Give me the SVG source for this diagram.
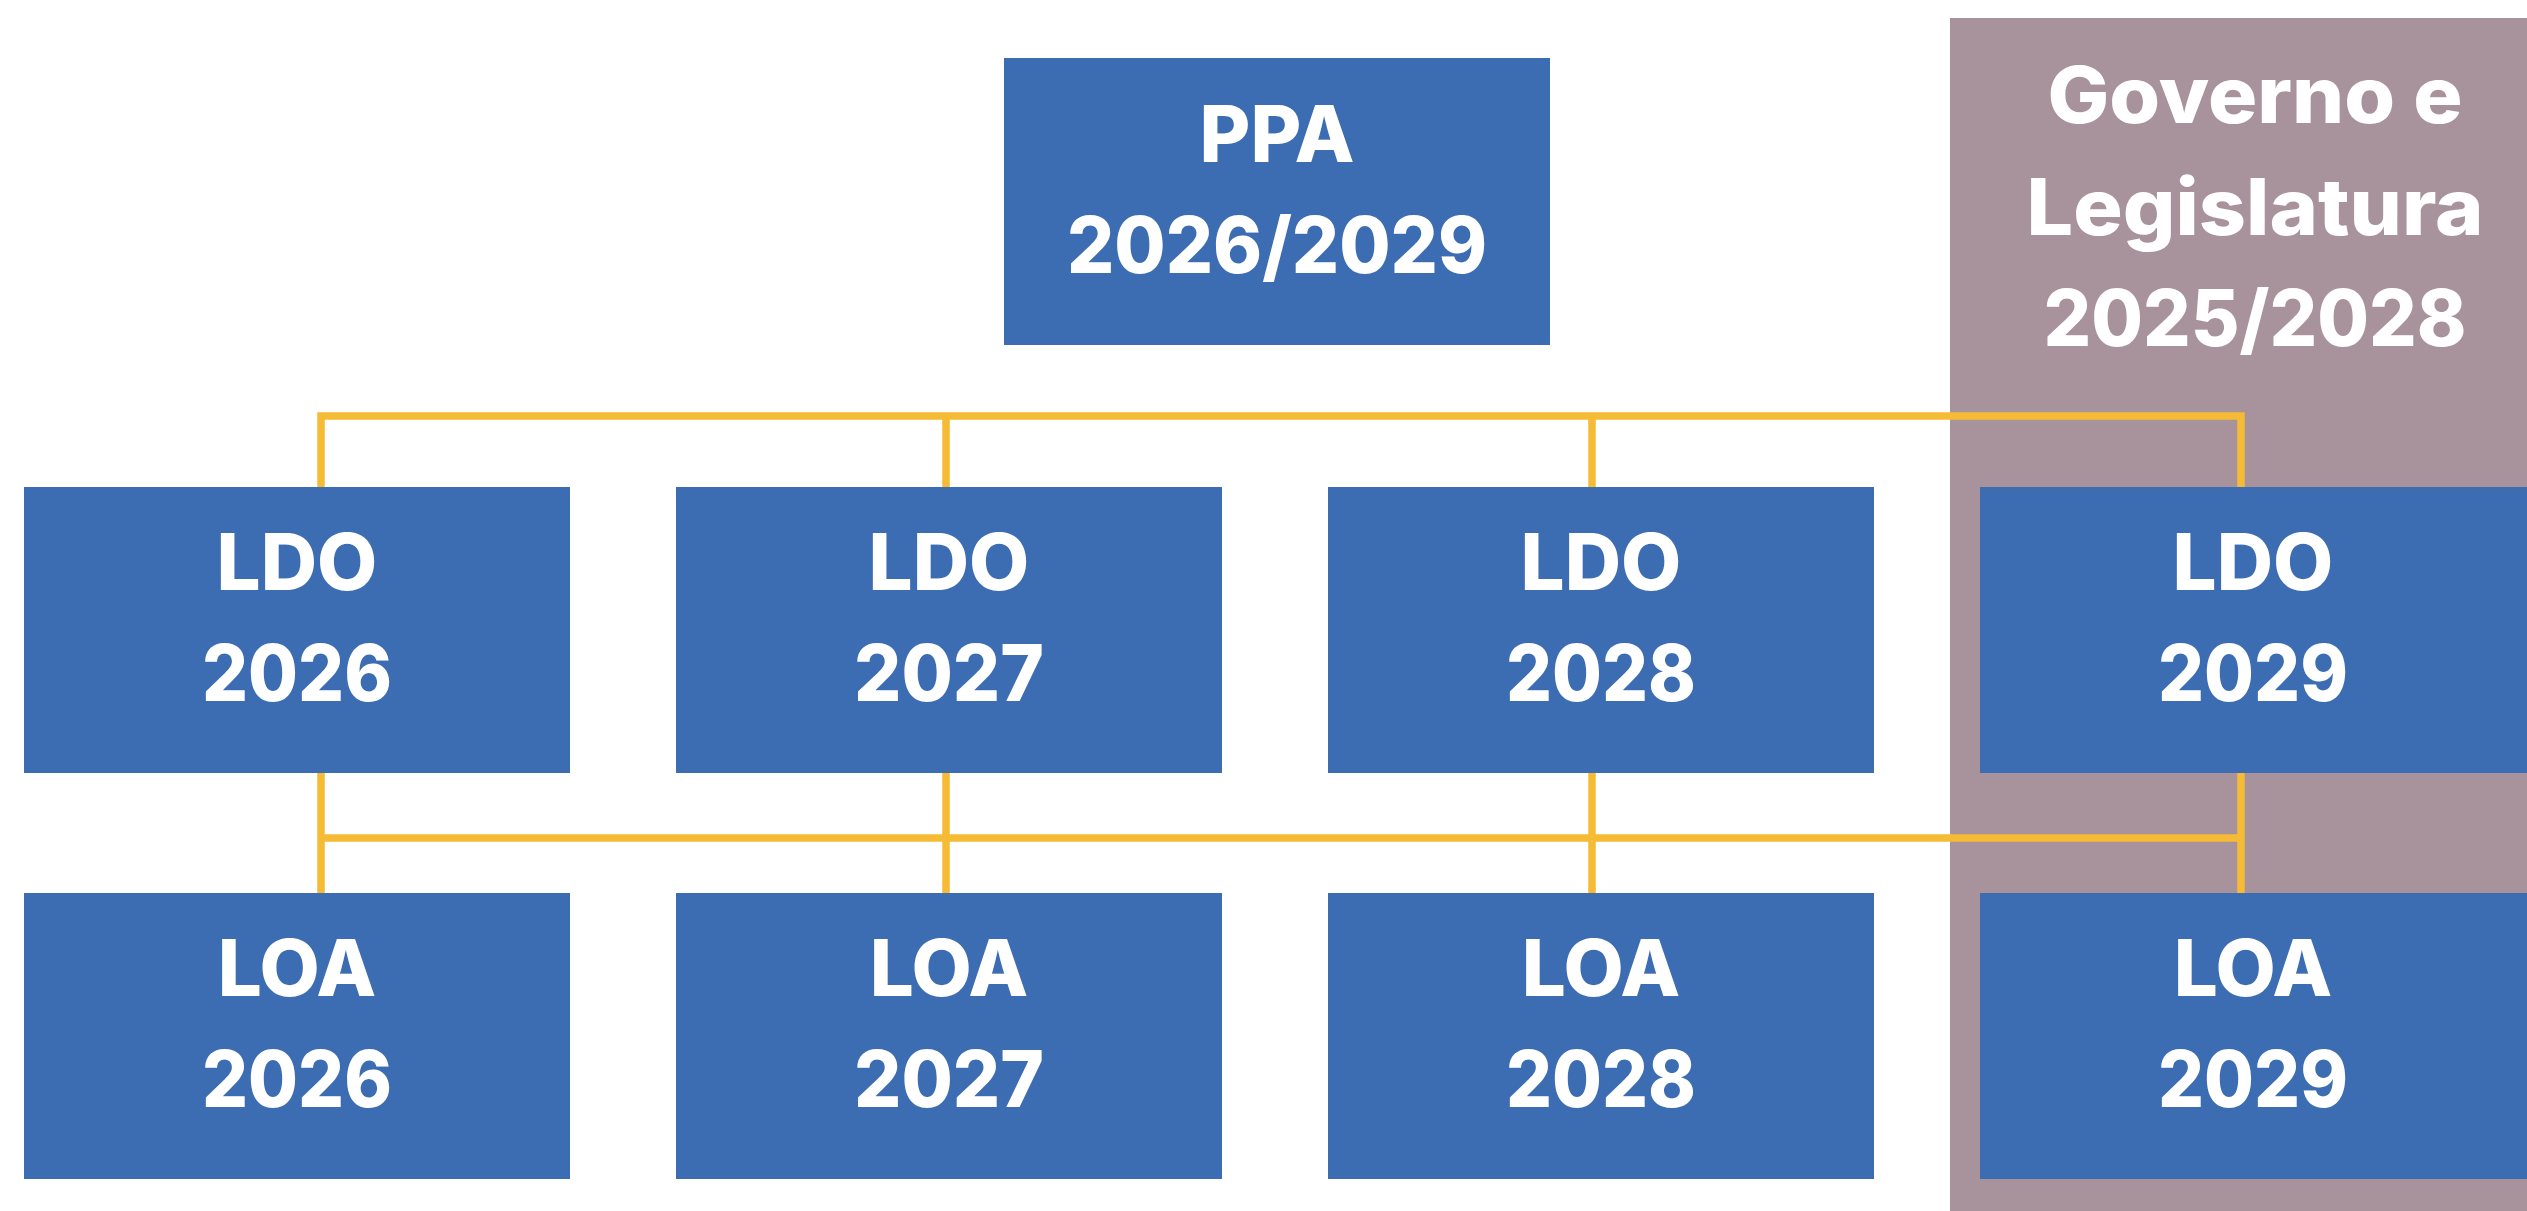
<svg xmlns="http://www.w3.org/2000/svg" width="2527" height="1211" viewBox="0 0 2527 1211">
<style>
.box{fill:#3C6DB3}
.t{font-family:Inter,"Noto Sans","Liberation Sans",sans-serif;font-weight:800;font-size:78px;fill:#FFFFFF;text-anchor:middle}
.c{fill:none;stroke:#F6BB35;stroke-width:7.5}
</style>
<rect width="2527" height="1211" fill="#FFFFFF"/>
<g id="governo">
<rect x="1950" y="18" width="577" height="1193" fill="#A8929B"/>
<text class="t" x="2255" y="123" textLength="415" lengthAdjust="spacingAndGlyphs">Governo e</text>
<text class="t" x="2255" y="235" textLength="457" lengthAdjust="spacingAndGlyphs">Legislatura</text>
<text class="t" x="2255" y="346" textLength="423" lengthAdjust="spacingAndGlyphs">2025/2028</text>
</g>
<g id="connectors">
<path class="c" d="M321,487 V416 H2241 V487 M946,416 V487 M1592,416 V487"/>
<path class="c" d="M321,772 V893 M946,772 V893 M1592,772 V893 M2241,772 V893 M321,838 H2241"/>
</g>
<g id="ppa">
<rect class="box" x="1004" y="58" width="546" height="287"/>
<text class="t" x="1277" y="162">PPA</text>
<text class="t" x="1277" y="273" textLength="420" lengthAdjust="spacingAndGlyphs">2026/2029</text>
</g>
<g id="ldo2026">
<rect class="box" x="24" y="487" width="546" height="286"/>
<text class="t" x="297" y="590">LDO</text>
<text class="t" x="297" y="701" textLength="190" lengthAdjust="spacingAndGlyphs">2026</text>
</g>
<g id="ldo2027">
<rect class="box" x="676" y="487" width="546" height="286"/>
<text class="t" x="949" y="590">LDO</text>
<text class="t" x="949" y="701" textLength="190" lengthAdjust="spacingAndGlyphs">2027</text>
</g>
<g id="ldo2028">
<rect class="box" x="1328" y="487" width="546" height="286"/>
<text class="t" x="1601" y="590">LDO</text>
<text class="t" x="1601" y="701" textLength="190" lengthAdjust="spacingAndGlyphs">2028</text>
</g>
<g id="ldo2029">
<rect class="box" x="1980" y="487" width="547" height="286"/>
<text class="t" x="2253" y="590">LDO</text>
<text class="t" x="2253" y="701" textLength="190" lengthAdjust="spacingAndGlyphs">2029</text>
</g>
<g id="loa2026">
<rect class="box" x="24" y="893" width="546" height="286"/>
<text class="t" x="297" y="996">LOA</text>
<text class="t" x="297" y="1107" textLength="190" lengthAdjust="spacingAndGlyphs">2026</text>
</g>
<g id="loa2027">
<rect class="box" x="676" y="893" width="546" height="286"/>
<text class="t" x="949" y="996">LOA</text>
<text class="t" x="949" y="1107" textLength="190" lengthAdjust="spacingAndGlyphs">2027</text>
</g>
<g id="loa2028">
<rect class="box" x="1328" y="893" width="546" height="286"/>
<text class="t" x="1601" y="996">LOA</text>
<text class="t" x="1601" y="1107" textLength="190" lengthAdjust="spacingAndGlyphs">2028</text>
</g>
<g id="loa2029">
<rect class="box" x="1980" y="893" width="547" height="286"/>
<text class="t" x="2253" y="996">LOA</text>
<text class="t" x="2253" y="1107" textLength="190" lengthAdjust="spacingAndGlyphs">2029</text>
</g>
</svg>
